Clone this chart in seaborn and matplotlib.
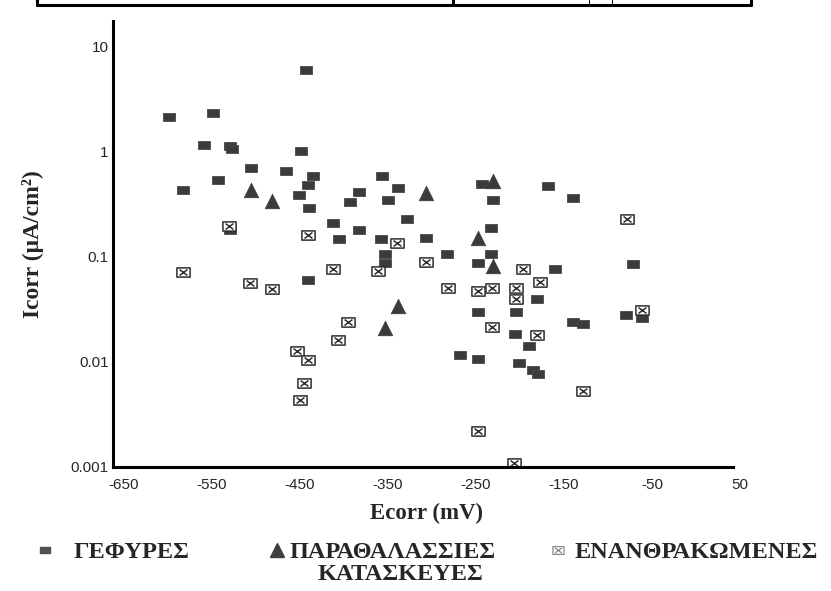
import matplotlib
matplotlib.use("Agg")
import numpy as np
import pandas as pd
import matplotlib.pyplot as plt
from matplotlib.path import Path
from matplotlib.lines import Line2D
import seaborn as sns

# Ecorr (mV) / Icorr (uA/cm2)
bridges_ecorr = [-598, -549, -559, -529, -527, -449, -505, -465, -435, -440, -543, -583,
                 -451, -439, -529, -440, -443, -357, -383, -393, -338, -350, -243, -230,
                 -328, -412, -405, -383, -358, -307, -353, -353, -283, -233, -233, -247,
                 -168, -140, -160, -71, -181, -248, -204, -206, -190, -140, -128, -79,
                 -61, -268, -248, -201, -185, -179]
bridges_icorr = [2.15, 2.34, 1.16, 1.13, 1.06, 1.02, 0.70, 0.65, 0.59, 0.48, 0.54, 0.43,
                 0.39, 0.29, 0.18, 0.060, 6.0, 0.59, 0.41, 0.33, 0.45, 0.35, 0.49, 0.35,
                 0.23, 0.21, 0.147, 0.18, 0.147, 0.150, 0.106, 0.087, 0.106, 0.187, 0.106, 0.087,
                 0.47, 0.36, 0.076, 0.085, 0.040, 0.030, 0.030, 0.0186, 0.0143, 0.0242, 0.0227, 0.0277,
                 0.0259, 0.0117, 0.0107, 0.0098, 0.0084, 0.0076]

marine_ecorr = [-505, -481, -306, -231, -248, -230, -338, -353]
marine_icorr = [0.43, 0.34, 0.40, 0.53, 0.150, 0.081, 0.034, 0.0208]

carb_ecorr = [-530, -440, -583, -506, -481, -412, -361, -339, -306, -196, -177, -282,
              -248, -232, -204, -204, -78, -61, -232, -180, -395, -406, -453, -440,
              -445, -450, -128, -248, -207]
carb_icorr = [0.195, 0.160, 0.071, 0.056, 0.049, 0.076, 0.073, 0.135, 0.089, 0.076, 0.058, 0.051,
              0.047, 0.050, 0.050, 0.040, 0.228, 0.0315, 0.0217, 0.0182, 0.0237, 0.0160, 0.0128, 0.0105,
              0.0063, 0.0043, 0.0053, 0.0022, 0.0011]

groups = ["ΓΕΦΥΡΕΣ", "ΠΑΡΑΘΑΛΑΣΣΙΕΣ\nΚΑΤΑΣΚΕΥΕΣ", "ΕΝΑΝΘΡΑΚΩΜΕΝΕΣ"]
x_ticks = [-650, -550, -450, -350, -250, -150, -50, 50]
y_ticks = [0.001, 0.01, 0.1, 1, 10]
y_tick_labels = ["0.001", "0.01", "0.1", "1", "10"]

df = pd.concat([
    pd.DataFrame({"ecorr": bridges_ecorr, "icorr": bridges_icorr, "group": groups[0]}),
    pd.DataFrame({"ecorr": marine_ecorr, "icorr": marine_icorr, "group": groups[1]}),
    pd.DataFrame({"ecorr": carb_ecorr, "icorr": carb_icorr, "group": groups[2]}),
], ignore_index=True)

# markers: slightly wide filled box, and a box with a cross inside
box = Path([(-1, -0.7), (1, -0.7), (1, 0.7), (-1, 0.7), (-1, -0.7)],
           [Path.MOVETO, Path.LINETO, Path.LINETO, Path.LINETO, Path.CLOSEPOLY])
box_x = Path([(-1, -0.7), (1, -0.7), (1, 0.7), (-1, 0.7), (-1, -0.7),
              (-0.6, -0.45), (0.6, 0.45), (-0.6, 0.45), (0.6, -0.45)],
             [Path.MOVETO, Path.LINETO, Path.LINETO, Path.LINETO, Path.CLOSEPOLY,
              Path.MOVETO, Path.LINETO, Path.MOVETO, Path.LINETO])

sns.set_style("white")
serif = ["Liberation Serif", "DejaVu Serif"]
plt.rcParams["font.family"] = ["Liberation Sans", "DejaVu Sans"]

fig = plt.figure(figsize=(8.31, 5.91), dpi=100)
ax = fig.add_axes([113 / 831, 124 / 591, 627 / 831, 446 / 591])

dark = "#3b3b3b"
sns.scatterplot(data=df[df.group == groups[0]], x="ecorr", y="icorr", marker=box, s=85,
                color=dark, edgecolor="#4a4a4a", linewidth=0.6, ax=ax, legend=False)
sns.scatterplot(data=df[df.group == groups[1]], x="ecorr", y="icorr", marker="^", s=110,
                color=dark, edgecolor=dark, linewidth=0.5, ax=ax, legend=False)
sns.scatterplot(data=df[df.group == groups[2]], x="ecorr", y="icorr", marker=box_x, s=90,
                facecolor="white", edgecolor="#2e2e2e", linewidth=1.1, ax=ax, legend=False)

ax.set_yscale("log")
ax.set_xlim(-662, 50)
ax.set_ylim(0.001, 17.5)
ax.set_xticks(x_ticks)
ax.set_xticklabels([str(v) for v in x_ticks])
ax.set_yticks(y_ticks)
ax.set_yticklabels(y_tick_labels)
ax.minorticks_off()
ax.tick_params(axis="both", length=0, labelsize=11, labelcolor="#262626")
ax.tick_params(axis="x", pad=8)
ax.tick_params(axis="y", pad=3)

for s in ["top", "right"]:
    ax.spines[s].set_visible(False)
for s in ["left", "bottom"]:
    ax.spines[s].set_color("black")
    ax.spines[s].set_linewidth(2.2)
ax.spines["bottom"].set_bounds(-662, 42)

ax.set_xlabel("Ecorr (mV)", family=serif, fontweight="bold", fontsize=16.5)
ax.set_ylabel("Icorr (μA/cm²)", family=serif, fontweight="bold", fontsize=17)
ax.xaxis.set_label_coords(0.5, -0.081)
ax.yaxis.set_label_coords(-0.11, 0.5)

# legend: three entries spread along the bottom
handles = [
    Line2D([], [], marker=box, linestyle="", markersize=7, color="#505050"),
    Line2D([], [], marker="^", linestyle="", markersize=10, color="#404040"),
    Line2D([], [], marker=box_x, linestyle="", markersize=8, markerfacecolor="white",
           markeredgecolor="#8a8a8a", markeredgewidth=0.9),
]
first_lines = [g.split("\n")[0] for g in groups]
legend_font = {"family": serif, "weight": "bold", "size": 17.5}
leg_x = [35, 267, 548]
leg_pad = [0.8, 0.14, 0.28]
for h, lab, xp, pad in zip(handles, first_lines, leg_x, leg_pad):
    fig.legend(handles=[h], labels=[lab], loc="upper left",
               bbox_to_anchor=(xp / 831, 1 - 541 / 591),
               frameon=False, handlelength=0.8, handletextpad=pad, borderpad=0,
               borderaxespad=0, prop=legend_font)
# second line of the two-line entry, centred under the first
fig.text(400 / 831, 1 - 575 / 591, groups[1].split("\n")[1], ha="center", va="center",
         fontfamily=serif, fontweight="bold", fontsize=17.5)

# remnant of the table frame cut off at the top of the page
frame_kw = dict(transform=fig.transFigure, color="black", linewidth=2.2)
yb = 1 - 5 / 591
fig.add_artist(Line2D([37 / 831, 751 / 831], [yb, yb], **frame_kw))
for xp in [37, 453, 751]:
    fig.add_artist(Line2D([xp / 831, xp / 831], [yb, 1.0], **frame_kw))
for xp in [589, 612]:
    fig.add_artist(Line2D([xp / 831, xp / 831], [1 - 3 / 591, 1.0], transform=fig.transFigure,
                          color="black", linewidth=0.8))

fig.savefig("out.png", dpi=100)
